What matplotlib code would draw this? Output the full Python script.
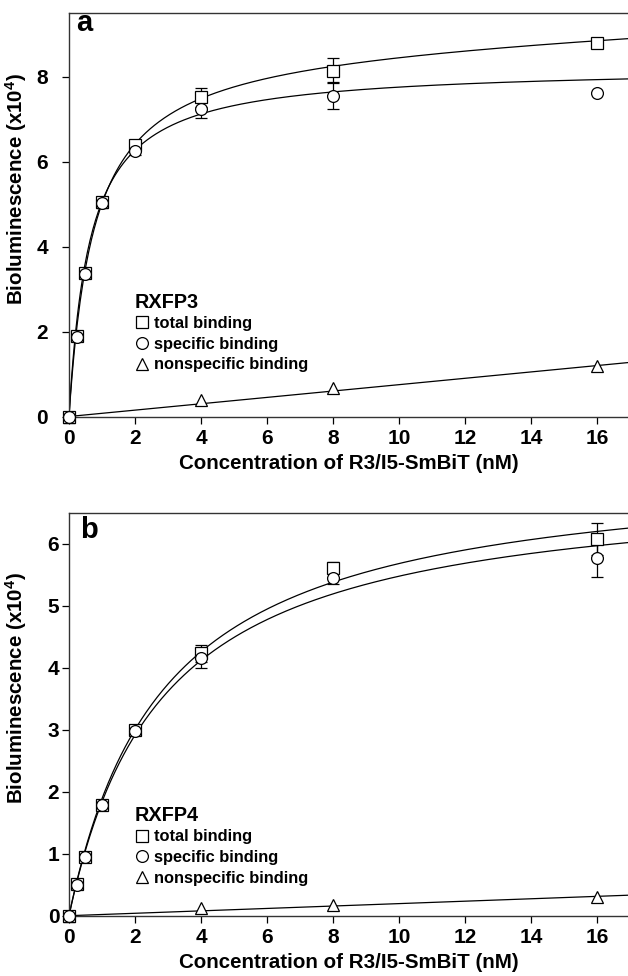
import numpy as np
import matplotlib
matplotlib.use("Agg")
import matplotlib.pyplot as plt
from matplotlib.lines import Line2D

plt.rcParams['font.family'] = ['Liberation Sans', 'DejaVu Sans']
plt.rcParams['font.weight'] = 'bold'
plt.rcParams['mathtext.fontset'] = 'custom'
plt.rcParams['mathtext.rm'] = 'Liberation Sans:bold'
plt.rcParams['mathtext.bf'] = 'Liberation Sans:bold'
plt.rcParams['mathtext.default'] = 'bf'

# ---------------- data ----------------
conc = [0, 0.25, 0.5, 1, 2, 4, 8, 16]
conc_ns = [0, 4, 8, 16]

# Panel a (RXFP3)
a_total = [0, 1.90, 3.38, 5.05, 6.39, 7.52, 8.15, 8.80]
a_total_err = [0, 0.05, 0.08, 0.13, 0.08, 0.22, 0.29, 0.05]
a_spec = [0, 1.88, 3.35, 5.03, 6.25, 7.25, 7.56, 7.63]
a_spec_err = [0, 0.05, 0.08, 0.10, 0.08, 0.21, 0.31, 0.0]
a_ns = [0, 0.38, 0.67, 1.18]
# fitted curve parameters: (Bmax, Kd, nonspecific slope)
a_total_fit = (8.77, 0.758, 0.030)
a_spec_fit = (8.25, 0.63, 0.0)
a_ns_slope = 0.075

# Panel b (RXFP4)
b_total = [0, 0.51, 0.95, 1.79, 3.00, 4.23, 5.61, 6.08]
b_total_err = [0, 0.03, 0.04, 0.05, 0.05, 0.13, 0.09, 0.26]
b_spec = [0, 0.50, 0.94, 1.79, 2.98, 4.15, 5.45, 5.77]
b_spec_err = [0, 0.03, 0.04, 0.05, 0.05, 0.15, 0.10, 0.31]
b_ns = [0, 0.13, 0.165, 0.30]
b_total_fit = (7.31, 2.87, 0.0)
b_spec_fit = (7.02, 2.82, 0.0)
b_ns_slope = 0.0195

panel_letters = ['a', 'b']
receptors = ['RXFP3', 'RXFP4']
legend_labels = ['total binding', 'specific binding', 'nonspecific binding']
xticks = [0, 2, 4, 6, 8, 10, 12, 14, 16]
a_yticks = [0, 2, 4, 6, 8]
b_yticks = [0, 1, 2, 3, 4, 5, 6]
xlabel = 'Concentration of R3/I5-SmBiT (nM)'
ylabel = r'Bioluminescence (x10$^{4}$)'

# ---------------- figure ----------------
W, H = 628, 976
fig = plt.figure(figsize=(W / 100, H / 100), dpi=100)

def fig_rect(left, top, right, bottom):
    return [left / W, 1 - bottom / H, (right - left) / W, (bottom - top) / H]

ax_a = fig.add_axes(fig_rect(69, 13.3, 628, 416.5))
ax_b = fig.add_axes(fig_rect(69, 512.7, 628, 915.7))

def model(x, p):
    B, K, s = p
    return B * x / (K + x) + s * x

def draw(ax, total, terr, spec, serr, ns, pt, ps, slope, ymax, yticks,
         letter, letter_xy, receptor, leg_xy, ypad):
    xmax = 16.94
    xs = np.linspace(0, xmax, 400)
    lw = 0.9
    ax.plot(xs, model(xs, pt), color='black', lw=lw, zorder=2)
    ax.plot(xs, model(xs, ps), color='black', lw=lw, zorder=2)
    ax.plot(xs, slope * xs, color='black', lw=lw, zorder=2)

    ekw = dict(ecolor='black', elinewidth=0.9, capsize=4.5, capthick=0.9,
               ls='none', clip_on=False, zorder=3)
    ax.errorbar(conc, total, yerr=terr, fmt='s', ms=8, mfc='white',
                mec='black', mew=0.9, **ekw)
    ax.errorbar(conc, spec, yerr=serr, fmt='o', ms=8.5, mfc='white',
                mec='black', mew=0.9, **ekw)
    ax.plot(conc_ns, ns, '^', ms=9, mfc='white', mec='black', mew=0.9,
            ls='none', clip_on=False, zorder=3)

    ax.set_xlim(0, xmax)
    ax.set_ylim(0, ymax)
    ax.set_xticks(xticks)
    ax.set_yticks(yticks)
    ax.spines['right'].set_visible(False)
    for s in ['left', 'bottom', 'top']:
        ax.spines[s].set_linewidth(1.0)
        ax.spines[s].set_color('#333333')
    ax.tick_params(axis='x', direction='out', length=5, width=0.9,
                   labelsize=15, pad=4)
    ax.tick_params(axis='y', direction='out', length=5, width=0.9,
                   labelsize=15, pad=ypad)
    for lab in ax.get_xticklabels() + ax.get_yticklabels():
        lab.set_fontweight('bold')
    ax.set_xlabel(xlabel, fontsize=14.8, fontweight='bold', labelpad=4)
    ax.set_ylabel(ylabel, fontsize=14.8, fontweight='bold')
    ax.yaxis.set_label_coords(-0.072, 0.565)

    ax.text(letter_xy[0], letter_xy[1], letter, transform=ax.transAxes,
            fontsize=21, fontweight='bold', va='baseline', ha='left')

    handles = [
        Line2D([], [], marker='s', ms=8, mfc='white', mec='black', mew=0.9, ls='none'),
        Line2D([], [], marker='o', ms=8.5, mfc='white', mec='black', mew=0.9, ls='none'),
        Line2D([], [], marker='^', ms=9, mfc='white', mec='black', mew=0.9, ls='none'),
    ]
    leg = ax.legend(handles, legend_labels, title=receptor, loc='upper left',
                    bbox_to_anchor=leg_xy, frameon=False, borderpad=0,
                    borderaxespad=0, handlelength=0.8, handletextpad=0.35,
                    labelspacing=0.35, alignment='left',
                    prop={'size': 11.8, 'weight': 'bold'},
                    title_fontproperties={'size': 14.3, 'weight': 'bold'})
    leg._legend_box.sep = 3

draw(ax_a, a_total, a_total_err, a_spec, a_spec_err, a_ns,
     a_total_fit, a_spec_fit, a_ns_slope, 9.5, a_yticks,
     panel_letters[0], (0.0125, 0.957), receptors[0], (0.118, 0.307), 10)
draw(ax_b, b_total, b_total_err, b_spec, b_spec_err, b_ns,
     b_total_fit, b_spec_fit, b_ns_slope, 6.5, b_yticks,
     panel_letters[1], (0.0197, 0.9365), receptors[1], (0.118, 0.272), 2)

fig.savefig('out.png', dpi=100)
